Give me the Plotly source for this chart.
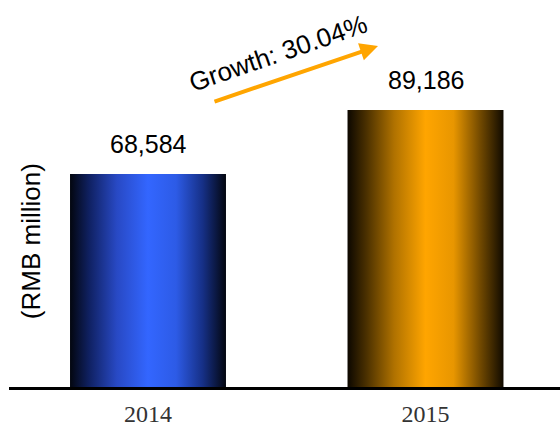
import plotly.graph_objects as go

# Revenue by year
years = ["2014", "2015"]
revenue = [68584, 89186]
growth_text = "Growth: 30.04%"
y_title = "(RMB million)"

# Horizontal "cylinder" shading for each bar: dark edges, bright middle
gradients = [
    [[0.0, "#03060f"], [0.12, "#0f2060"], [0.3, "#2849c4"], [0.5, "#3366ff"],
     [0.68, "#2d5be6"], [0.85, "#163087"], [1.0, "#03060f"]],
    [[0.0, "#0c0700"], [0.12, "#4a3000"], [0.3, "#b07200"], [0.5, "#ffa500"],
     [0.68, "#e89600"], [0.85, "#734a00"], [1.0, "#100a00"]],
]

BAR_W = 0.562
fig = go.Figure()

for i, (yr, val) in enumerate(zip(years, revenue)):
    x0, x1 = i - BAR_W / 2, i + BAR_W / 2
    fig.add_trace(go.Scatter(
        x=[x0, x1, x1, x0, x0],
        y=[0, 0, val, val, 0],
        mode="lines",
        fill="toself",
        line=dict(width=0),
        fillgradient=dict(type="horizontal", colorscale=gradients[i]),
        hoverinfo="skip",
        showlegend=False,
    ))
    fig.add_annotation(
        x=i, y=val, xref="x", yref="y",
        text=f"{val:,}", showarrow=False,
        yanchor="middle", yshift=30,
        font=dict(family="Liberation Sans, Arial", size=25, color="#000000"),
    )

# Growth arrow and label
fig.add_annotation(
    x=0.6697, y=0.881, xref="paper", yref="paper",
    ax=-165, ay=56, axref="pixel", ayref="pixel",
    text="", showarrow=True,
    arrowhead=2, arrowsize=0.9, arrowwidth=4, arrowcolor="#ffa500",
    standoff=0,
)
fig.add_annotation(
    x=0.489, y=0.862, xref="paper", yref="paper",
    text=growth_text, showarrow=False, textangle=-19,
    xanchor="center", yanchor="middle",
    font=dict(family="Liberation Sans, Arial", size=26, color="#000000"),
)

# Vertical axis caption
fig.add_annotation(
    x=0.04, y=0.377, xref="paper", yref="paper",
    text=y_title, showarrow=False, textangle=-90,
    xanchor="center", yanchor="middle",
    font=dict(family="Liberation Sans, Arial", size=26, color="#000000"),
)

fig.update_layout(
    width=560, height=426,
    margin=dict(l=9, r=0, t=0, b=39),
    paper_bgcolor="white", plot_bgcolor="white",
    xaxis=dict(
        range=[-0.5009, 1.4847],
        tickvals=list(range(len(years))), ticktext=years,
        showgrid=False, zeroline=False,
        showline=True, linecolor="#000000", linewidth=2.5,
        ticks="", ticklabelstandoff=3, automargin=False,
        tickfont=dict(family="Liberation Serif, Times New Roman",
                      size=24, color="#333333"),
        fixedrange=True,
    ),
    yaxis=dict(
        range=[0, 124600], visible=False, fixedrange=True, automargin=False,
    ),
)

fig.write_html("out.html")
